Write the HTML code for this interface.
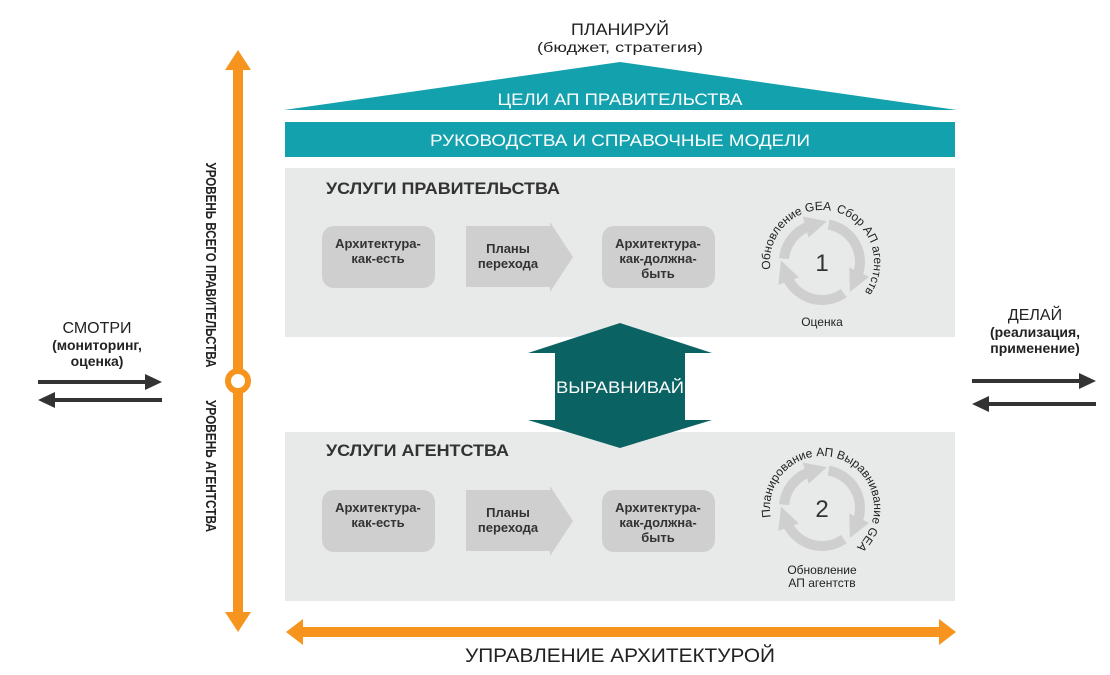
<!DOCTYPE html>
<html><head><meta charset="utf-8"><style>
html,body{margin:0;padding:0;background:#fff;}
svg{display:block;font-family:"Liberation Sans","DejaVu Sans",sans-serif;}
</style></head><body>
<svg width="1110" height="675" viewBox="0 0 1110 675" xmlns="http://www.w3.org/2000/svg">
<defs>
<marker id="ah" viewBox="0 0 10 10" refX="3" refY="5" markerWidth="2.2" markerHeight="2.2" orient="auto" markerUnits="strokeWidth">
<path d="M0,0 L10,5 L0,10 Z" fill="#cfcfcf"/></marker>
</defs>
<text x="620" y="35" text-anchor="middle" font-size="17" fill="#222" textLength="98" lengthAdjust="spacingAndGlyphs">ПЛАНИРУЙ</text>
<text x="620" y="52" text-anchor="middle" font-size="14" fill="#222" textLength="166" lengthAdjust="spacingAndGlyphs">(бюджет, стратегия)</text>
<polygon points="284,110 620,62 957,110" fill="#13a2ad"/>
<text x="620" y="105" text-anchor="middle" font-size="17" fill="#fff" textLength="245" lengthAdjust="spacingAndGlyphs">ЦЕЛИ АП ПРАВИТЕЛЬСТВА</text>
<rect x="285" y="122" width="670" height="35" fill="#13a2ad"/>
<text x="620" y="146" text-anchor="middle" font-size="17" fill="#fff" textLength="380" lengthAdjust="spacingAndGlyphs">РУКОВОДСТВА И СПРАВОЧНЫЕ МОДЕЛИ</text>
<rect x="285" y="168" width="670" height="169" fill="#e8e9e9"/>
<rect x="285" y="432" width="670" height="169" fill="#e8e9e9"/>
<text x="326" y="194" font-size="17" font-weight="bold" fill="#333" textLength="234" lengthAdjust="spacingAndGlyphs">УСЛУГИ ПРАВИТЕЛЬСТВА</text>
<text x="326" y="456" font-size="17" font-weight="bold" fill="#333" textLength="183" lengthAdjust="spacingAndGlyphs">УСЛУГИ АГЕНТСТВА</text>

<g id="row1">
<rect x="322" y="226" width="113" height="62" rx="12" fill="#cfcfcf"/>
<text x="378" y="248" text-anchor="middle" font-size="13" font-weight="bold" fill="#333">Архитектура-</text>
<text x="378" y="263" text-anchor="middle" font-size="13" font-weight="bold" fill="#333">как-есть</text>
<polygon points="466,226 550,226 550,222 573,257 550,292 550,287 466,287" fill="#cfcfcf"/>
<text x="508" y="253" text-anchor="middle" font-size="13" font-weight="bold" fill="#333">Планы</text>
<text x="508" y="268" text-anchor="middle" font-size="13" font-weight="bold" fill="#333">перехода</text>
<rect x="602" y="226" width="113" height="62" rx="12" fill="#cfcfcf"/>
<text x="658" y="248" text-anchor="middle" font-size="13" font-weight="bold" fill="#333">Архитектура-</text>
<text x="658" y="263" text-anchor="middle" font-size="13" font-weight="bold" fill="#333">как-должна-</text>
<text x="658" y="278" text-anchor="middle" font-size="13" font-weight="bold" fill="#333">быть</text>
</g>
<use href="#row1" y="264"/>

<polygon points="620,323 712,353 685,353 685,420 712,420 620,448 528,420 555,420 555,353 528,353" fill="#0b6262"/>
<text x="620" y="393" text-anchor="middle" font-size="17" fill="#fff" textLength="128" lengthAdjust="spacingAndGlyphs">ВЫРАВНИВАЙ</text>

<!-- cycle 1 -->
<g transform="translate(822,262)" fill="none" stroke="#cfcfcf" stroke-width="10">
<path d="M6.6,-37.4 A38,38 0 0 1 34.4,16.1" marker-end="url(#ah)"/>
<path d="M21.8,31.1 A38,38 0 0 1 -35.7,13" marker-end="url(#ah)"/>
<path d="M-37.9,-3.3 A38,38 0 0 1 -10,-36.7" marker-end="url(#ah)"/>
</g>
<text x="822" y="271" text-anchor="middle" font-size="24" fill="#333">1</text>
<path id="c1" d="M822,314 A52,52 0 1 1 822,210 A52,52 0 1 1 822,314" fill="none"/>
<text font-size="12" fill="#222"><textPath href="#c1" startOffset="123" text-anchor="middle">Обновление GEA</textPath></text>
<text font-size="12" fill="#222"><textPath href="#c1" startOffset="227" text-anchor="middle">Сбор АП агентств</textPath></text>
<text x="822" y="326" text-anchor="middle" font-size="12" fill="#222">Оценка</text>

<!-- cycle 2 -->
<g transform="translate(822,508)" fill="none" stroke="#cfcfcf" stroke-width="10">
<path d="M6.6,-37.4 A38,38 0 0 1 34.4,16.1" marker-end="url(#ah)"/>
<path d="M21.8,31.1 A38,38 0 0 1 -35.7,13" marker-end="url(#ah)"/>
<path d="M-37.9,-3.3 A38,38 0 0 1 -10,-36.7" marker-end="url(#ah)"/>
</g>
<text x="822" y="517" text-anchor="middle" font-size="24" fill="#333">2</text>
<path id="c2" d="M822,560 A52,52 0 1 1 822,456 A52,52 0 1 1 822,560" fill="none"/>
<text font-size="12" fill="#222"><textPath href="#c2" startOffset="123" text-anchor="middle">Планирование АП</textPath></text>
<text font-size="12" fill="#222"><textPath href="#c2" startOffset="233" text-anchor="middle">Выравнивание GEA</textPath></text>
<text x="822" y="574" text-anchor="middle" font-size="12" fill="#222">Обновление</text>
<text x="822" y="587" text-anchor="middle" font-size="12" fill="#222">АП агентств</text>

<rect x="233" y="66" width="10" height="550" fill="#f7941d"/>
<polygon points="238,50 251,70 225,70" fill="#f7941d"/>
<polygon points="238,632 251,612 225,612" fill="#f7941d"/>
<circle cx="238" cy="381" r="10" fill="#fff" stroke="#f7941d" stroke-width="6"/>
<text transform="translate(206,265) rotate(90)" text-anchor="middle" font-size="15" font-weight="bold" fill="#222" textLength="205" lengthAdjust="spacingAndGlyphs">УРОВЕНЬ ВСЕГО ПРАВИТЕЛЬСТВА</text>
<text transform="translate(206,466) rotate(90)" text-anchor="middle" font-size="15" font-weight="bold" fill="#222" textLength="132" lengthAdjust="spacingAndGlyphs">УРОВЕНЬ АГЕНТСТВА</text>

<rect x="300" y="627" width="642" height="10" fill="#f7941d"/>
<polygon points="286,632 303,619 303,645" fill="#f7941d"/>
<polygon points="956,632 939,619 939,645" fill="#f7941d"/>
<text x="620" y="662" text-anchor="middle" font-size="19" fill="#222" textLength="310" lengthAdjust="spacingAndGlyphs">УПРАВЛЕНИЕ АРХИТЕКТУРОЙ</text>

<text x="97" y="333" text-anchor="middle" font-size="16" fill="#222">СМОТРИ</text>
<text x="97" y="350" text-anchor="middle" font-size="14" font-weight="bold" fill="#222">(мониторинг,</text>
<text x="97" y="366" text-anchor="middle" font-size="14" font-weight="bold" fill="#222">оценка)</text>
<rect x="38" y="380" width="110" height="4" fill="#333"/>
<polygon points="162,382 145,374 145,390" fill="#333"/>
<rect x="52" y="398" width="110" height="4" fill="#333"/>
<polygon points="38,400 55,392 55,408" fill="#333"/>

<text x="1035" y="320" text-anchor="middle" font-size="16" fill="#222">ДЕЛАЙ</text>
<text x="1035" y="337" text-anchor="middle" font-size="14" font-weight="bold" fill="#222">(реализация,</text>
<text x="1035" y="353" text-anchor="middle" font-size="14" font-weight="bold" fill="#222">применение)</text>
<rect x="972" y="379" width="110" height="4" fill="#333"/>
<polygon points="1096,381 1079,373 1079,389" fill="#333"/>
<rect x="986" y="402" width="110" height="4" fill="#333"/>
<polygon points="972,404 989,396 989,412" fill="#333"/>
</svg>
</body></html>
